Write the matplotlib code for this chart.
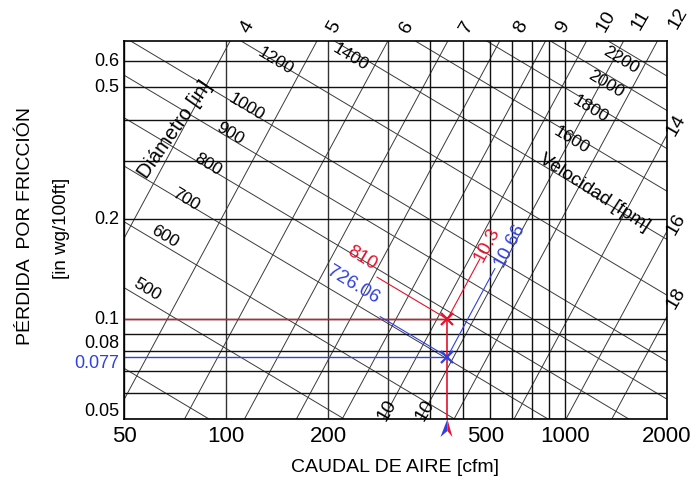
import numpy as np
import matplotlib
matplotlib.use('Agg')
import matplotlib.pyplot as plt
from matplotlib.patches import Polygon
from matplotlib.transforms import ScaledTranslation

plt.rcParams['font.family'] = ['Liberation Sans', 'DejaVu Sans']

# diameter lines [in] and velocity lines [fpm]
diametros = [4, 5, 6, 7, 8, 9, 10, 11, 12, 14, 16, 18]
velocidades = [400, 500, 600, 700, 800, 900, 1000, 1200, 1400, 1600, 1800, 2000, 2200]
vel_etiquetas = ['500', '600', '700', '800', '900', '1000', '1200', '1400',
                 '1600', '1800', '2000', '2200']
diam_etiquetas = ['4', '5', '6', '7', '8', '9', '10', '11', '12', '14', '16', '18', '10', '10']

# axes
caudal_ticks = [50, 100, 200, 500, 1000, 2000]
caudal_grid = [50, 100, 200, 300, 400, 500, 600, 700, 800, 900, 1000, 2000]
perdida_grid = [0.05, 0.06, 0.07, 0.08, 0.09, 0.1, 0.2, 0.3, 0.4, 0.5, 0.6]
perdida_etiquetas = ['0.6', '0.5', '0.2', '0.1', '0.08', '0.05']

# design point
caudal_diseno = 450
perdidas_diseno = [0.1, 0.077]
diam_diseno = ['10.3', '10.66']
vel_diseno = ['810', '726.06']
colores = ['#e8102a', '#3040e0']


def friccion(q, d):
    return 0.109136 * q ** 1.9 / d ** 5.02


def diam_por_vel(q, v):
    return 12 * np.sqrt(4 * q / (np.pi * v))


fig = plt.figure(figsize=(6.94, 4.83), dpi=100)
ax = fig.add_axes([124 / 694, 1 - 419 / 483, 543 / 694, 378 / 483])
ax.set_xscale('log')
ax.set_yscale('log')
ax.set_xlim(50, 2000)
ax.set_ylim(0.05, 0.69)

q = np.geomspace(50, 2000, 200)
for d in diametros:
    ax.plot(q, friccion(q, d), color='#3a3a3a', lw=0.7)
for v in velocidades:
    ax.plot(q, friccion(q, diam_por_vel(q, v)), color='#3a3a3a', lw=0.7)

for x in caudal_grid:
    ax.axvline(x, color='#333333' if x in (100, 200, 300) else '#111111', lw=1.0)
for y in perdida_grid:
    ax.axhline(y, color='#111111', lw=1.0)

# tick labels
ax.set_xticks([])
ax.set_yticks([])
ax.minorticks_off()
ax.tick_params(which='both', length=0, labelbottom=False, labelleft=False)
for s in ax.spines.values():
    s.set_linewidth(1.2)

xt = ax.get_xaxis_transform()
for c in caudal_ticks:
    if c == 500:
        ax.text(c * 1.03, -0.045, str(c), transform=xt, ha='left', va='center', fontsize=16)
    else:
        ax.text(c, -0.045, str(c), transform=xt, ha='center', va='center', fontsize=16)

yt = ax.get_yaxis_transform()
pos_y = [0.6, 0.5, 0.2, 0.1, 0.0846, 0.0528]
for lab, y in zip(perdida_etiquetas, pos_y):
    ax.text(-0.009, y, lab, transform=yt, ha='right', va='center', fontsize=13)
ax.text(-0.009, 0.0737, '0.077', transform=yt, ha='right', va='center',
        fontsize=13, color=colores[1])

# line labels (axes fractions)
vel_pos = [(0.0424, 0.3413), (0.0755, 0.4815), (0.1142, 0.5794), (0.1547, 0.6720),
           (0.1952, 0.7540), (0.2265, 0.8254), (0.2799, 0.9471), (0.4180, 0.9577),
           (0.8250, 0.7381), (0.8582, 0.8201), (0.8877, 0.8862), (0.9153, 0.9497)]
for lab, (x, y) in zip(vel_etiquetas, vel_pos):
    ax.text(x, y, lab, transform=ax.transAxes, rotation=-31, ha='center', va='center',
            fontsize=12.5, rotation_mode='anchor')

diam_pos = [(0.2265, 1.037), (0.3867, 1.037), (0.5212, 1.037), (0.6317, 1.037),
            (0.7311, 1.037), (0.8085, 1.037), (0.8877, 1.052), (0.9521, 1.0556),
            (1.0203, 1.0608), (1.0166, 0.7778), (1.0166, 0.5159), (1.0166, 0.3201),
            (0.4843, 0.0238), (0.5543, 0.0238)]
for lab, (x, y) in zip(diam_etiquetas, diam_pos):
    ax.text(x, y, lab, transform=ax.transAxes, rotation=60, ha='center', va='center',
            fontsize=14, rotation_mode='anchor', clip_on=False)

ax.text(0.094, 0.765, 'Diámetro [in]', transform=ax.transAxes, rotation=55,
        ha='center', va='center', fontsize=14.5, rotation_mode='anchor')
ax.text(0.8656, 0.598, 'Velocidad [fpm]', transform=ax.transAxes, rotation=-33,
        ha='center', va='center', fontsize=13.5, rotation_mode='anchor')

# design point annotations
fin_vel = [279, 285]
fin_diam = [561, 621]
for f0, c, qv, qd in zip(perdidas_diseno, colores, fin_vel, fin_diam):
    ax.plot([50, caudal_diseno], [f0, f0], color=c, lw=1.0)
    qs = np.array([qv, caudal_diseno])
    ax.plot(qs, f0 * (qs / caudal_diseno) ** -0.61, color=c, lw=0.8)
    qs = np.array([caudal_diseno, qd])
    ax.plot(qs, f0 * (qs / caudal_diseno) ** 1.9, color=c, lw=0.8)
ax.plot([caudal_diseno, caudal_diseno], [0.05, perdidas_diseno[0]], color=colores[0], lw=1.2)
for f0, c in zip(perdidas_diseno, colores):
    ax.plot(caudal_diseno, f0, marker='x', color=c, ms=9, mew=1.6)

txt_pos = [((0.4383, 0.4259), (0.6685, 0.4603)), ((0.4217, 0.3545), (0.7109, 0.4603))]
for vl, dl, c, (pv, pd) in zip(vel_diseno, diam_diseno, colores, txt_pos):
    ax.text(pv[0], pv[1], vl, transform=ax.transAxes, rotation=-31, color=c,
            ha='center', va='center', fontsize=13.5, rotation_mode='anchor')
    ax.text(pd[0], pd[1], dl, transform=ax.transAxes, rotation=62, color=c,
            ha='center', va='center', fontsize=13.5, rotation_mode='anchor')

# arrow under the axis
tr = fig.dpi_scale_trans + ScaledTranslation(caudal_diseno, 0, ax.get_xaxis_transform())
ax.add_patch(Polygon([(0, 0), (-0.07, -0.18), (0, -0.12)], closed=True,
                     facecolor=colores[1], edgecolor='none', transform=tr, clip_on=False))
ax.add_patch(Polygon([(0, 0), (0.05, -0.18), (0, -0.12)], closed=True,
                     facecolor=colores[0], edgecolor='none', transform=tr, clip_on=False))

fig.text(395 / 694, 1 - 468 / 483, 'CAUDAL DE AIRE [cfm]', ha='center', va='center',
         fontsize=14)
fig.text(26 / 694, 1 - 226 / 483, 'PÉRDIDA  POR FRICCIÓN', rotation=90,
         ha='center', va='center', fontsize=14)
fig.text(62 / 694, 1 - 228 / 483, '[in wg/100ft]', rotation=90,
         ha='center', va='center', fontsize=13.5)

fig.savefig('out.png', dpi=100)
